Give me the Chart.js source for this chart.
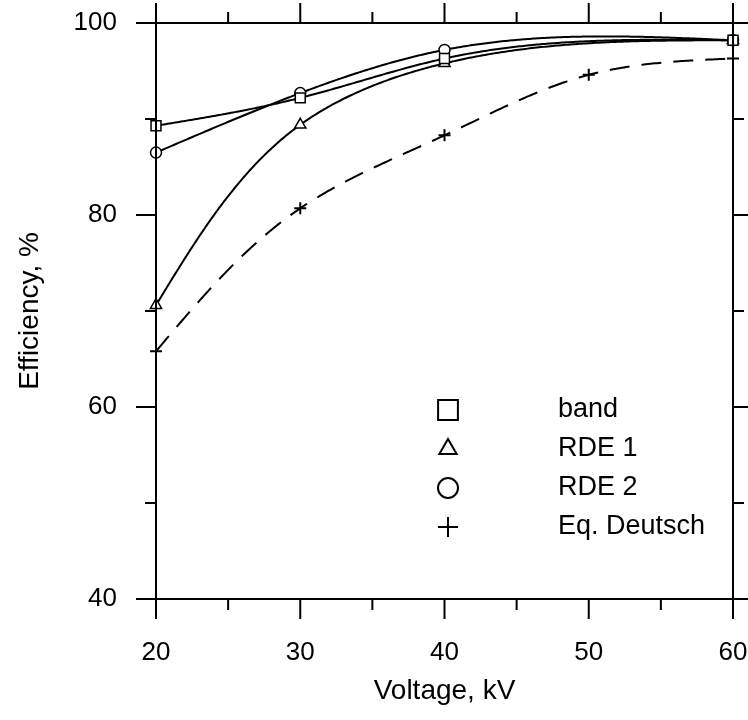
<!DOCTYPE html>
<html>
<head>
<meta charset="utf-8">
<script src="https://cdn.jsdelivr.net/npm/chart.js@4/dist/chart.umd.min.js"></script>
<style>
  html, body { margin: 0; padding: 0; background: #ffffff; }
  #wrap { width: 748px; height: 720px; position: relative; }
</style>
</head>
<body>
<div id="wrap"><canvas id="c" width="748" height="720"></canvas></div>
<script>
// Voltage values (kV) for the measured series
const voltages = [20, 30, 40, 60];
// Voltage values (kV) for the Deutsch equation
const deutschVoltages = [20, 30, 40, 50, 60];

// Collection efficiency, %
const bandEff = [89.3, 92.2, 96.3, 98.2];
const rde1Eff = [70.6, 89.4, 95.8, 98.2];
const rde2Eff = [86.5, 92.7, 97.2, 98.2];
const deutschEff = [65.8, 80.7, 88.3, 94.6, 96.3];

// Series names
const seriesNames = ['band', 'RDE 1', 'RDE 2', 'Eq. Deutsch'];

// Axis ticks
const xTicks = [20, 30, 40, 50, 60];
const yTicks = [40, 60, 80, 100];

const FONT = "'Liberation Sans', Arial, sans-serif";

function toPoints(xs, ys) {
  return xs.map((x, i) => ({ x: x, y: ys[i] }));
}

// Second derivatives of a natural cubic spline through (t, v)
function naturalMoments(t, v) {
  const n = t.length;
  const h = [];
  for (let i = 0; i < n - 1; i++) h.push(t[i + 1] - t[i]);
  const A = [], b = [];
  for (let i = 0; i < n; i++) { A.push(new Array(n).fill(0)); b.push(0); }
  A[0][0] = 1; A[n - 1][n - 1] = 1;
  for (let i = 1; i < n - 1; i++) {
    A[i][i - 1] = h[i - 1];
    A[i][i] = 2 * (h[i - 1] + h[i]);
    A[i][i + 1] = h[i];
    b[i] = 6 * ((v[i + 1] - v[i]) / h[i] - (v[i] - v[i - 1]) / h[i - 1]);
  }
  for (let c = 0; c < n; c++) {
    for (let r = c + 1; r < n; r++) {
      const f = A[r][c] / A[c][c];
      if (!f) continue;
      for (let k = c; k < n; k++) A[r][k] -= f * A[c][k];
      b[r] -= f * b[c];
    }
  }
  const M = new Array(n).fill(0);
  for (let r = n - 1; r >= 0; r--) {
    let s = b[r];
    for (let k = r + 1; k < n; k++) s -= A[r][k] * M[k];
    M[r] = s / A[r][r];
  }
  return M;
}

function splineAt(t, v, M, x) {
  let i = 0;
  while (i < t.length - 2 && x > t[i + 1]) i++;
  const h = t[i + 1] - t[i];
  const a = t[i + 1] - x, d = x - t[i];
  return M[i] * a * a * a / (6 * h) + M[i + 1] * d * d * d / (6 * h)
    + (v[i] / h - M[i] * h / 6) * a + (v[i + 1] / h - M[i + 1] * h / 6) * d;
}

// Parametric spline curve through each series' scaled points, under the markers
const splinePlugin = {
  id: 'splineCurves',
  beforeDatasetsDraw(chart) {
    const { ctx } = chart;
    const xs = chart.scales.x, ys = chart.scales.y;
    ctx.save();
    chart.data.datasets.forEach(ds => {
      const X = ds.data.map(p => xs.getPixelForValue(p.x));
      const Y = ds.data.map(p => ys.getPixelForValue(p.y));
      const t = [0];
      for (let i = 1; i < X.length; i++) t.push(t[i - 1] + Math.hypot(X[i] - X[i - 1], Y[i] - Y[i - 1]));
      const MX = naturalMoments(t, X), MY = naturalMoments(t, Y);
      const T = t[t.length - 1];
      const steps = 300;
      ctx.beginPath();
      for (let s = 0; s <= steps; s++) {
        const tv = T * s / steps;
        const px = splineAt(t, X, MX, tv), py = splineAt(t, Y, MY, tv);
        if (s === 0) ctx.moveTo(px, py); else ctx.lineTo(px, py);
      }
      ctx.strokeStyle = '#000';
      ctx.lineWidth = 2;
      ctx.setLineDash(ds.curveDash || []);
      ctx.stroke();
    });
    ctx.restore();
  }
};

// Frame with outward major/minor ticks on all four sides
const framePlugin = {
  id: 'frame',
  afterDatasetsDraw(chart) {
    const { ctx, chartArea: a } = chart;
    const xs = chart.scales.x, ys = chart.scales.y;
    ctx.save();
    ctx.strokeStyle = '#000';
    ctx.lineWidth = 2;
    ctx.strokeRect(a.left, a.top, a.right - a.left, a.bottom - a.top);
    const major = 20, minor = 11;
    ctx.beginPath();
    for (let v = xs.min; v <= xs.max + 1e-9; v += 5) {
      const px = xs.getPixelForValue(v);
      const len = (v % 10 === 0) ? major : minor;
      ctx.moveTo(px, a.bottom); ctx.lineTo(px, a.bottom + len);
      ctx.moveTo(px, a.top); ctx.lineTo(px, a.top - len);
    }
    for (let v = ys.min; v <= ys.max + 1e-9; v += 10) {
      const py = ys.getPixelForValue(v);
      const len = (v % 20 === 0) ? major : minor;
      ctx.moveTo(a.left, py); ctx.lineTo(a.left - len, py);
      ctx.moveTo(a.right, py); ctx.lineTo(a.right + len, py);
    }
    ctx.stroke();
    ctx.restore();
  }
};

// Legend drawn inside the plot area: symbol column, then label column
const legendPlugin = {
  id: 'insideLegend',
  afterDraw(chart) {
    const { ctx, chartArea: a } = chart;
    const symX = a.left + 292;
    const textX = a.left + 402;
    const top = a.top + 387;
    const step = 39;
    ctx.save();
    chart.data.datasets.forEach((ds, i) => {
      const y = top + i * step;
      ctx.strokeStyle = '#000';
      ctx.fillStyle = 'rgba(0,0,0,0)';
      ctx.lineWidth = 2;
      Chart.helpers.drawPoint(ctx, {
        pointStyle: ds.pointStyle,
        radius: ds.legendRadius,
        borderWidth: 2
      }, symX, y);
      ctx.fillStyle = '#000';
      ctx.font = "27px " + FONT;
      ctx.textAlign = 'left';
      ctx.textBaseline = 'middle';
      ctx.fillText(ds.label, textX, y);
    });
    ctx.restore();
  }
};

const common = {
  borderColor: '#000',
  showLine: false,
  pointBorderColor: '#000',
  pointBackgroundColor: '#fff',
  pointBorderWidth: 1.5,
  fill: false,
  clip: false
};

new Chart(document.getElementById('c'), {
  type: 'line',
  data: {
    datasets: [
      Object.assign({}, common, {
        label: seriesNames[0], data: toPoints(voltages, bandEff),
        pointStyle: 'rect', pointRadius: 7, legendRadius: 14
      }),
      Object.assign({}, common, {
        label: seriesNames[1], data: toPoints(voltages, rde1Eff),
        pointStyle: 'triangle', pointRadius: 6.5, legendRadius: 10
      }),
      Object.assign({}, common, {
        label: seriesNames[2], data: toPoints(voltages, rde2Eff),
        pointStyle: 'circle', pointRadius: 5.5, legendRadius: 10
      }),
      Object.assign({}, common, {
        label: seriesNames[3], data: toPoints(deutschVoltages, deutschEff),
        pointStyle: 'cross', pointRadius: 6, legendRadius: 10,
        curveDash: [20, 12], pointBorderWidth: 2
      })
    ]
  },
  options: {
    responsive: false,
    animation: false,
    events: [],
    layout: { padding: { left: 0, right: 15, top: 23, bottom: 0 } },
    plugins: {
      legend: { display: false },
      tooltip: { enabled: false }
    },
    scales: {
      x: {
        type: 'linear',
        min: 20, max: 60,
        afterFit(scale) {
          scale.height = 121;
          scale.paddingLeft = 0; scale.paddingRight = 0;
        },
        afterBuildTicks(scale) { scale.ticks = xTicks.map(v => ({ value: v })); },
        grid: { display: false },
        border: { display: false },
        ticks: { color: '#000', padding: 30, maxRotation: 0, font: { family: FONT, size: 26 } },
        title: {
          display: true, text: 'Voltage, kV', color: '#000',
          padding: { top: 0, bottom: 12 },
          font: { family: FONT, size: 28 }
        }
      },
      y: {
        type: 'linear',
        min: 40, max: 100,
        afterFit(scale) {
          scale.width = 156;
          scale.paddingTop = 0; scale.paddingBottom = 0;
        },
        afterBuildTicks(scale) { scale.ticks = yTicks.map(v => ({ value: v })); },
        grid: { display: false },
        border: { display: false },
        ticks: { color: '#000', padding: 31, font: { family: FONT, size: 26 } },
        title: {
          display: true, text: 'Efficiency, %', color: '#000',
          padding: { top: 13, bottom: 0 },
          font: { family: FONT, size: 28 }
        }
      }
    }
  },
  plugins: [splinePlugin, framePlugin, legendPlugin]
});
</script>
</body>
</html>
